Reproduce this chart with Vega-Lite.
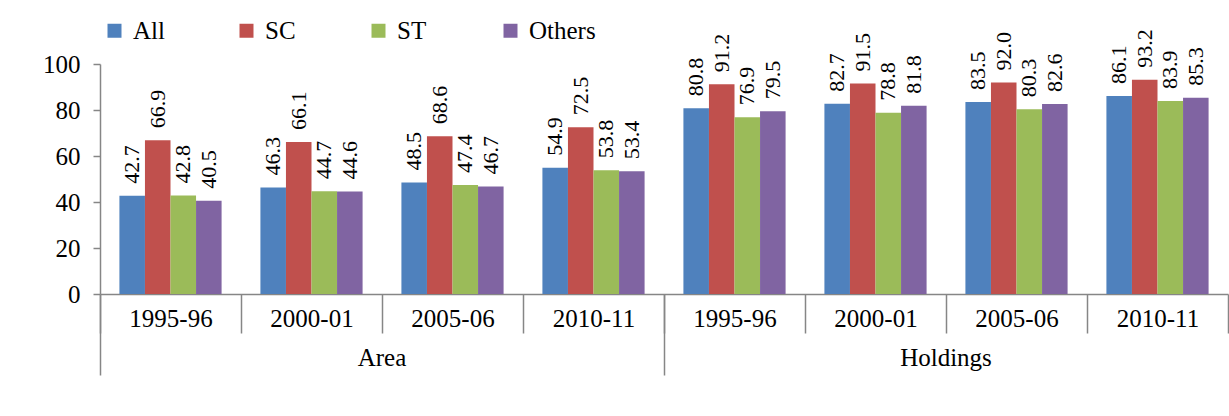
{
  "$schema": "https://vega.github.io/schema/vega-lite/v6.json",
  "width": 1128,
  "height": 230,
  "autosize": "none",
  "padding": {"left": 100, "top": 64, "right": 1, "bottom": 122},
  "background": "white",
  "config": {
    "font": "Times New Roman, Liberation Serif, serif",
    "view": {"stroke": null},
    "text": {"font": "Times New Roman, Liberation Serif, serif"},
    "axis": {
      "grid": false,
      "domainColor": "#868686",
      "tickColor": "#868686",
      "domainWidth": 1.5,
      "tickWidth": 1.5,
      "labelFont": "Times New Roman, Liberation Serif, serif",
      "labelFontSize": 25,
      "labelColor": "black",
      "title": null
    },
    "legend": {"labelFont": "Times New Roman, Liberation Serif, serif", "labelFontSize": 25, "labelColor": "black"}
  },
  "data": {
    "values": [
      {"group": "Area", "year": "1995-96", "key": "Area|1995-96", "cat": "All", "value": 42.7},
      {"group": "Area", "year": "1995-96", "key": "Area|1995-96", "cat": "SC", "value": 66.9},
      {"group": "Area", "year": "1995-96", "key": "Area|1995-96", "cat": "ST", "value": 42.8},
      {"group": "Area", "year": "1995-96", "key": "Area|1995-96", "cat": "Others", "value": 40.5},
      {"group": "Area", "year": "2000-01", "key": "Area|2000-01", "cat": "All", "value": 46.3},
      {"group": "Area", "year": "2000-01", "key": "Area|2000-01", "cat": "SC", "value": 66.1},
      {"group": "Area", "year": "2000-01", "key": "Area|2000-01", "cat": "ST", "value": 44.7},
      {"group": "Area", "year": "2000-01", "key": "Area|2000-01", "cat": "Others", "value": 44.6},
      {"group": "Area", "year": "2005-06", "key": "Area|2005-06", "cat": "All", "value": 48.5},
      {"group": "Area", "year": "2005-06", "key": "Area|2005-06", "cat": "SC", "value": 68.6},
      {"group": "Area", "year": "2005-06", "key": "Area|2005-06", "cat": "ST", "value": 47.4},
      {"group": "Area", "year": "2005-06", "key": "Area|2005-06", "cat": "Others", "value": 46.7},
      {"group": "Area", "year": "2010-11", "key": "Area|2010-11", "cat": "All", "value": 54.9},
      {"group": "Area", "year": "2010-11", "key": "Area|2010-11", "cat": "SC", "value": 72.5},
      {"group": "Area", "year": "2010-11", "key": "Area|2010-11", "cat": "ST", "value": 53.8},
      {"group": "Area", "year": "2010-11", "key": "Area|2010-11", "cat": "Others", "value": 53.4},
      {"group": "Holdings", "year": "1995-96", "key": "Holdings|1995-96", "cat": "All", "value": 80.8},
      {"group": "Holdings", "year": "1995-96", "key": "Holdings|1995-96", "cat": "SC", "value": 91.2},
      {"group": "Holdings", "year": "1995-96", "key": "Holdings|1995-96", "cat": "ST", "value": 76.9},
      {"group": "Holdings", "year": "1995-96", "key": "Holdings|1995-96", "cat": "Others", "value": 79.5},
      {"group": "Holdings", "year": "2000-01", "key": "Holdings|2000-01", "cat": "All", "value": 82.7},
      {"group": "Holdings", "year": "2000-01", "key": "Holdings|2000-01", "cat": "SC", "value": 91.5},
      {"group": "Holdings", "year": "2000-01", "key": "Holdings|2000-01", "cat": "ST", "value": 78.8},
      {"group": "Holdings", "year": "2000-01", "key": "Holdings|2000-01", "cat": "Others", "value": 81.8},
      {"group": "Holdings", "year": "2005-06", "key": "Holdings|2005-06", "cat": "All", "value": 83.5},
      {"group": "Holdings", "year": "2005-06", "key": "Holdings|2005-06", "cat": "SC", "value": 92.0},
      {"group": "Holdings", "year": "2005-06", "key": "Holdings|2005-06", "cat": "ST", "value": 80.3},
      {"group": "Holdings", "year": "2005-06", "key": "Holdings|2005-06", "cat": "Others", "value": 82.6},
      {"group": "Holdings", "year": "2010-11", "key": "Holdings|2010-11", "cat": "All", "value": 86.1},
      {"group": "Holdings", "year": "2010-11", "key": "Holdings|2010-11", "cat": "SC", "value": 93.2},
      {"group": "Holdings", "year": "2010-11", "key": "Holdings|2010-11", "cat": "ST", "value": 83.9},
      {"group": "Holdings", "year": "2010-11", "key": "Holdings|2010-11", "cat": "Others", "value": 85.3}
    ]
  },
  "encoding": {
    "xOffset": {"field": "cat", "type": "nominal", "sort": ["All", "SC", "ST", "Others"], "scale": {"paddingInner": 0, "paddingOuter": 0.76}},
    "y": {
      "field": "value", "type": "quantitative",
      "scale": {"domain": [0, 100], "nice": false},
      "axis": {"values": [0, 20, 40, 60, 80, 100], "tickSize": 7, "labelPadding": 13}
    }
  },
  "layer": [
    {
      "mark": {"type": "bar"},
      "encoding": {
        "x": {
          "field": "key", "type": "nominal", "sort": null,
          "scale": {"paddingInner": 0, "paddingOuter": 0},
          "axis": {
            "orient": "bottom",
            "labelExpr": "split(datum.value, '|')[1]",
            "tickBand": "extent",
            "tickSize": 39,
            "labelPadding": -27,
            "labelAngle": 0
          }
        },
        "color": {
          "field": "cat", "type": "nominal",
          "scale": {"domain": ["All", "SC", "ST", "Others"], "range": ["#4F81BD", "#C0504D", "#9BBB59", "#8064A2"]},
          "legend": {
            "orient": "none", "legendX": 2, "legendY": -46,
            "direction": "horizontal", "columns": 4, "gridAlign": "all",
            "symbolType": "square", "symbolSize": 196, "symbolStrokeWidth": 0,
            "labelOffset": 6, "columnPadding": 34, "title": null
          }
        }
      }
    },
    {
      "mark": {"type": "text", "angle": -90, "align": "left", "baseline": "middle", "dx": 12, "fontSize": 22, "color": "black"},
      "encoding": {
        "x": {
          "field": "key", "type": "nominal", "sort": null,
          "axis": {
            "orient": "bottom",
            "domain": false,
            "values": ["Area|1995-96", "Area|2005-06", "Holdings|1995-96", "Holdings|2005-06"],
            "bandPosition": 0,
            "tickSize": 81,
            "tickOpacity": {"condition": {"test": "indexof(datum.value, '2005-06') >= 0", "value": 0}, "value": 1},
            "labelExpr": "indexof(datum.value, '2005-06') >= 0 ? split(datum.value, '|')[0] : ''",
            "labelOffset": -70.5,
            "labelPadding": -30,
            "labelAngle": 0
          }
        },
        "text": {"field": "value", "type": "quantitative", "format": ".1f"}
      }
    }
  ],
  "resolve": {"axis": {"x": "independent"}}
}
